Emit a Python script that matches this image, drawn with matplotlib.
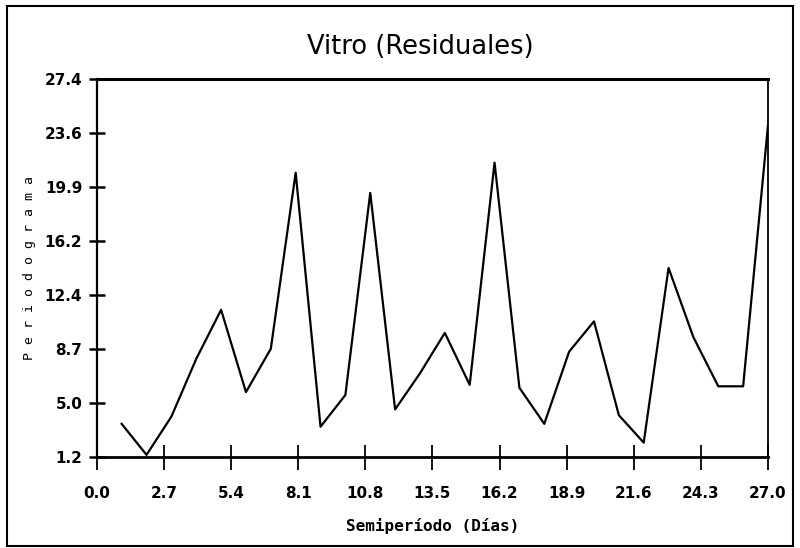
import matplotlib
matplotlib.use('Agg')
import matplotlib.pyplot as plt
from matplotlib.patches import Rectangle
from matplotlib.font_manager import FontProperties

# ---------------------------------------------------------
# Data (semiperiod in days vs value)
# ---------------------------------------------------------
semiperiodo = [1, 2, 3, 4, 5, 6, 7, 8, 9, 10, 11, 12, 13, 14,
               15, 16, 17, 18, 19, 20, 21, 22, 23, 24, 25, 26, 27]
periodograma = [3.5, 1.35, 4.0, 8.0, 11.4, 5.7, 8.7, 20.9, 3.3, 5.5, 19.5, 4.5, 7.0, 9.8,
                6.2, 21.6, 6.0, 3.5, 8.5, 10.6, 4.1, 2.2, 14.3, 9.5, 6.1, 6.1, 24.2]

x_ticks = [0.0, 2.7, 5.4, 8.1, 10.8, 13.5, 16.2, 18.9, 21.6, 24.3, 27.0]
x_labels = ['0.0', '2.7', '5.4', '8.1', '10.8', '13.5', '16.2', '18.9', '21.6', '24.3', '27.0']
y_ticks = [1.2, 4.943, 8.686, 12.429, 16.171, 19.914, 23.657, 27.4]
y_labels = ['1.2', '5.0', '8.7', '12.4', '16.2', '19.9', '23.6', '27.4']

fig = plt.figure(figsize=(8, 5.48), dpi=100)
ax = fig.add_axes([0.121, 0.166, 0.839, 0.690])

ax.plot(semiperiodo, periodograma, color='black', linewidth=1.6)

ax.set_xlim(0, 27.0)
ax.set_ylim(1.2, 27.4)
ax.set_xticks(x_ticks)
ax.set_xticklabels(x_labels)
ax.set_yticks(y_ticks)
ax.set_yticklabels(y_labels)

tick_fp = FontProperties(family='DejaVu Sans', weight='bold', size=11)
for lab in ax.get_xticklabels() + ax.get_yticklabels():
    lab.set_fontproperties(tick_fp)

ax.tick_params(axis='x', direction='inout', length=18, width=1.3, pad=12, colors='black')
ax.tick_params(axis='y', direction='inout', length=11, width=1.8, pad=5, colors='black')

ax.spines['left'].set_linewidth(1.6)
ax.spines['bottom'].set_linewidth(2.0)
ax.spines['top'].set_linewidth(2.2)
ax.spines['right'].set_linewidth(1.3)

ax.set_xlabel('Semiperíodo (Días)', family='DejaVu Sans Mono', weight='bold',
              size=11.5, labelpad=12)
ax.set_ylabel('P e r i o d o g r a m a', family='DejaVu Sans Mono', size=9.5)
ax.yaxis.set_label_coords(-0.091, 0.5)

fig.text(0.525, 0.915, 'Vitro (Residuales)', ha='center', va='center',
         family='DejaVu Sans', size=18.5)

# outer frame around the whole figure
fig.patches.append(Rectangle((0.009, 0.004), 0.982, 0.985, transform=fig.transFigure,
                             fill=False, edgecolor='black', linewidth=1.5))

plt.savefig('out.png', dpi=100)
